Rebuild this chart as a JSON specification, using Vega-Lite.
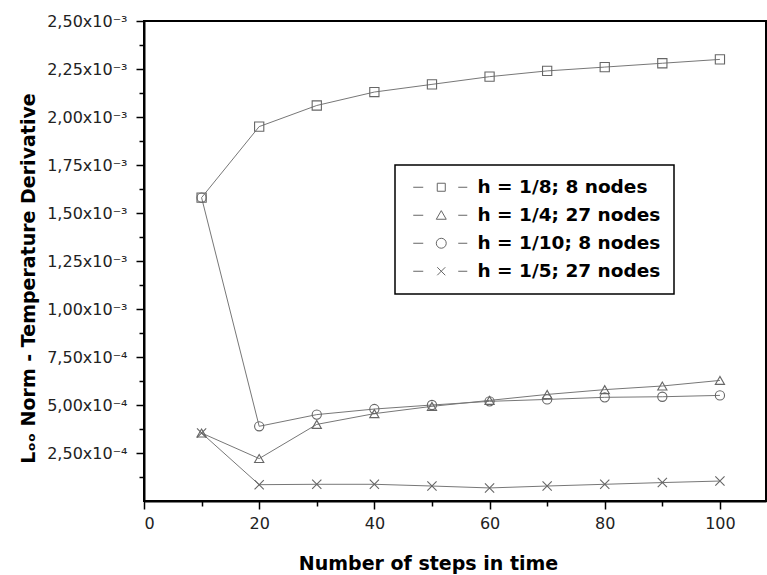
{
  "$schema": "https://vega.github.io/schema/vega-lite/v6.json",
  "autosize": "none",
  "width": 622,
  "height": 480,
  "padding": {"left": 144, "top": 21, "right": 1, "bottom": 74},
  "background": "white",
  "config": {
    "view": {"stroke": "black", "strokeWidth": 2},
    "axis": {"grid": false, "domainColor": "black", "domainWidth": 2, "tickColor": "black", "tickWidth": 1.5, "labelFont": "DejaVu Sans", "labelFontSize": 16, "labelColor": "#222", "titleFont": "DejaVu Sans", "titleFontSize": 19, "titleFontWeight": "bold", "titleColor": "black"},
    "legend": {"strokeWidth": 1.5}
  },
  "data": {"values": [
    {"series": "h = 1/8; 8 nodes", "steps": 10, "norm": 0.00158},
    {"series": "h = 1/8; 8 nodes", "steps": 20, "norm": 0.00195},
    {"series": "h = 1/8; 8 nodes", "steps": 30, "norm": 0.00206},
    {"series": "h = 1/8; 8 nodes", "steps": 40, "norm": 0.00213},
    {"series": "h = 1/8; 8 nodes", "steps": 50, "norm": 0.00217},
    {"series": "h = 1/8; 8 nodes", "steps": 60, "norm": 0.00221},
    {"series": "h = 1/8; 8 nodes", "steps": 70, "norm": 0.00224},
    {"series": "h = 1/8; 8 nodes", "steps": 80, "norm": 0.00226},
    {"series": "h = 1/8; 8 nodes", "steps": 90, "norm": 0.00228},
    {"series": "h = 1/8; 8 nodes", "steps": 100, "norm": 0.0023},
    {"series": "h = 1/4; 27 nodes", "steps": 10, "norm": 0.000354},
    {"series": "h = 1/4; 27 nodes", "steps": 20, "norm": 0.000221},
    {"series": "h = 1/4; 27 nodes", "steps": 30, "norm": 0.000399},
    {"series": "h = 1/4; 27 nodes", "steps": 40, "norm": 0.000455},
    {"series": "h = 1/4; 27 nodes", "steps": 50, "norm": 0.000493},
    {"series": "h = 1/4; 27 nodes", "steps": 60, "norm": 0.000524},
    {"series": "h = 1/4; 27 nodes", "steps": 70, "norm": 0.000555},
    {"series": "h = 1/4; 27 nodes", "steps": 80, "norm": 0.00058},
    {"series": "h = 1/4; 27 nodes", "steps": 90, "norm": 0.000599},
    {"series": "h = 1/4; 27 nodes", "steps": 100, "norm": 0.000628},
    {"series": "h = 1/10; 8 nodes", "steps": 10, "norm": 0.00158},
    {"series": "h = 1/10; 8 nodes", "steps": 20, "norm": 0.000389},
    {"series": "h = 1/10; 8 nodes", "steps": 30, "norm": 0.00045},
    {"series": "h = 1/10; 8 nodes", "steps": 40, "norm": 0.000479},
    {"series": "h = 1/10; 8 nodes", "steps": 50, "norm": 0.0005},
    {"series": "h = 1/10; 8 nodes", "steps": 60, "norm": 0.000519},
    {"series": "h = 1/10; 8 nodes", "steps": 70, "norm": 0.000529},
    {"series": "h = 1/10; 8 nodes", "steps": 80, "norm": 0.00054},
    {"series": "h = 1/10; 8 nodes", "steps": 90, "norm": 0.000543},
    {"series": "h = 1/10; 8 nodes", "steps": 100, "norm": 0.00055},
    {"series": "h = 1/5; 27 nodes", "steps": 10, "norm": 0.000354},
    {"series": "h = 1/5; 27 nodes", "steps": 20, "norm": 0.000085},
    {"series": "h = 1/5; 27 nodes", "steps": 30, "norm": 0.000087},
    {"series": "h = 1/5; 27 nodes", "steps": 40, "norm": 0.000087},
    {"series": "h = 1/5; 27 nodes", "steps": 50, "norm": 0.000078},
    {"series": "h = 1/5; 27 nodes", "steps": 60, "norm": 0.000068},
    {"series": "h = 1/5; 27 nodes", "steps": 70, "norm": 0.000078},
    {"series": "h = 1/5; 27 nodes", "steps": 80, "norm": 0.000087},
    {"series": "h = 1/5; 27 nodes", "steps": 90, "norm": 0.000096},
    {"series": "h = 1/5; 27 nodes", "steps": 100, "norm": 0.000104}
  ]},
  "encoding": {
    "x": {
      "field": "steps", "type": "quantitative",
      "scale": {"domain": [0, 108], "nice": false, "zero": false},
      "axis": {
        "title": "Number of steps in time",
        "values": [0, 10, 20, 30, 40, 50, 60, 70, 80, 90, 100],
        "labelExpr": "datum.value % 20 == 0 ? datum.label : ''",
        "tickSize": {"condition": {"test": "datum.value % 20 != 0", "value": 5}, "value": 8},
        "labelPadding": 6,
        "titleX": 284, "titleY": 62, "titleBaseline": "middle", "titleAnchor": "middle"
      }
    },
    "y": {
      "field": "norm", "type": "quantitative",
      "scale": {"domain": [0, 0.0025], "nice": false},
      "axis": {
        "title": "Lₒₒ Norm - Temperature Derivative",
        "values": [0.000125, 0.00025, 0.000375, 0.0005, 0.000625, 0.00075, 0.000875, 0.001, 0.001125, 0.00125, 0.001375, 0.0015, 0.001625, 0.00175, 0.001875, 0.002, 0.002125, 0.00225, 0.002375, 0.0025],
        "labelExpr": "round(datum.value*8000) % 2 == 1 ? '' : (datum.value >= 0.000999 ? replace(format(datum.value*1000, '.2f'), '.', ',') + 'x10⁻³' : replace(format(datum.value*10000, '.2f'), '.', ',') + 'x10⁻⁴')",
        "tickSize": {"condition": {"test": "round(datum.value*8000) % 2 == 1", "value": 5}, "value": 8},
        "labelPadding": 9,
        "titleX": -106, "titleY": 257, "titleAngle": 270, "titleBaseline": "bottom"
      }
    }
  },
  "layer": [
    {
      "mark": {"type": "line", "color": "#777", "strokeWidth": 1},
      "encoding": {"detail": {"field": "series", "type": "nominal"}}
    },
    {
      "mark": {"type": "point", "filled": false, "strokeWidth": 1.1, "opacity": 1, "color": "#666", "size": 85},
      "encoding": {
        "shape": {
          "field": "series", "type": "nominal",
          "scale": {
            "domain": ["h = 1/8; 8 nodes", "h = 1/4; 27 nodes", "h = 1/10; 8 nodes", "h = 1/5; 27 nodes"],
            "range": ["square", "triangle-up", "circle", "M-1,-1L1,1M-1,1L1,-1"]
          },
          "legend": null
        }
      }
    },
    {
      "mark": {"type": "point", "filled": false, "strokeWidth": 1, "opacity": 0, "color": "#666", "size": 85},
      "encoding": {
        "shape": {
          "field": "series", "type": "nominal",
          "scale": {
            "domain": ["h = 1/8; 8 nodes", "h = 1/4; 27 nodes", "h = 1/10; 8 nodes", "h = 1/5; 27 nodes"],
            "range": [
              "M-0.87,0H1.3M8.89,0H10.85M4.34,-0.87H6.08V0.87H4.34Z",
              "M-0.87,0H1.3M8.89,0H10.85M5.21,-1.0L6.29,0.87L4.13,0.87Z",
              "M-0.87,0H1.3M8.89,0H10.85M4.13,0A1.08,1.08,0,1,0,6.29,0A1.08,1.08,0,1,0,4.13,0Z",
              "M-0.87,0H1.3M8.89,0H10.85M4.34,-0.87L6.08,0.87M4.34,0.87L6.08,-0.87"
            ]
          },
          "legend": {
            "title": null,
            "orient": "none",
            "legendX": 251,
            "legendY": 144,
            "padding": 13,
            "fillColor": "white",
            "strokeColor": "black",
            "labelFont": "DejaVu Sans",
            "labelFontWeight": "bold",
            "labelFontSize": 18.5,
            "labelColor": "black",
            "labelLimit": 400,
            "labelOffset": 51,
            "rowPadding": 9,
            "symbolSize": 85,
            "symbolOpacity": 1,
            "symbolStrokeColor": "#666",
            "symbolStrokeWidth": 1,
            "symbolFillColor": "transparent"
          }
        }
      }
    }
  ],
  "resolve": {"scale": {"shape": "independent"}}
}
